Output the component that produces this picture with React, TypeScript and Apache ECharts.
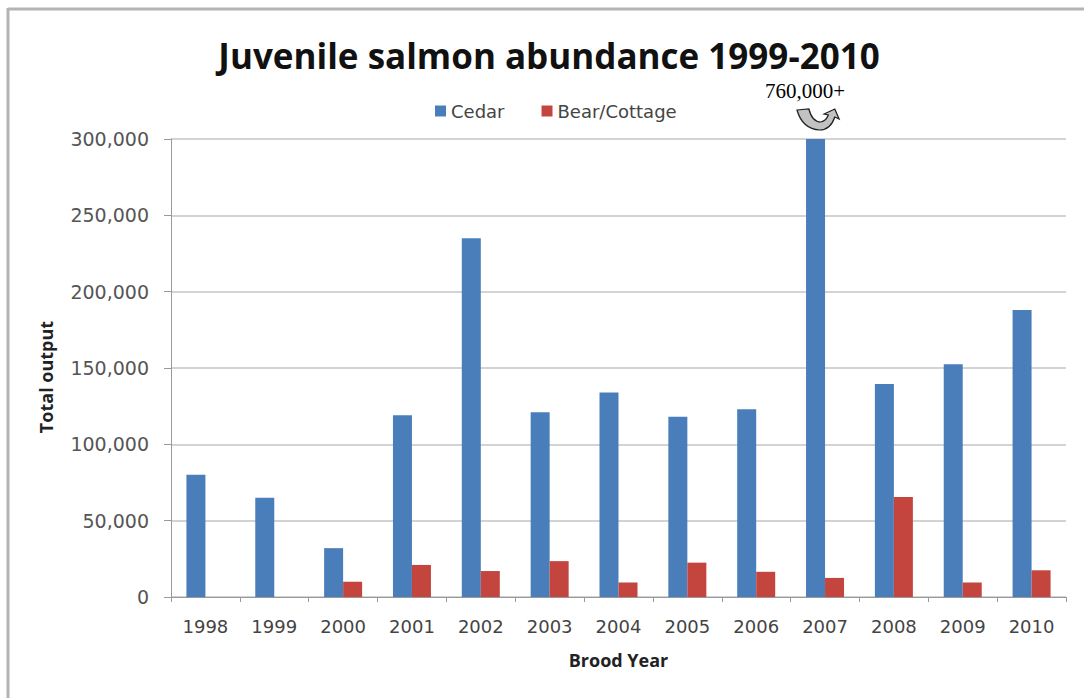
import React, { useEffect, useRef } from "react";
import * as echarts from "echarts";

const years = ["1998", "1999", "2000", "2001", "2002", "2003", "2004", "2005", "2006", "2007", "2008", "2009", "2010"];
const cedar = [80000, 65000, 32000, 119000, 235000, 121000, 134000, 118000, 123000, 760000, 139500, 152500, 188000];
const bearCottage = [null, null, 10000, 21000, 17000, 23500, 9500, 22500, 16500, 12500, 65500, 9500, 17500];
const yTicks = { min: 0, max: 300000, interval: 50000 };
const titleText = "Juvenile salmon abundance 1999-2010";
const yAxisTitle = "Total output";
const xAxisTitle = "Brood Year";
const annotationText = "760,000+";

const arrowPath =
  "M0 1 L11 0 Q14 13 22 13 Q27 12 29 6 L25 5 L35 0 L39 10 L35 8 Q31 21 21 21 Q5 20 0 1 Z";

echarts.graphic.registerShape("uturn", (echarts.graphic as any).extendPath(arrowPath, {}));

export default function App() {
  const ref = useRef<HTMLDivElement>(null);
  useEffect(() => {
    if (!ref.current) return;
    const chart = echarts.init(ref.current, undefined, { renderer: "svg" });
    const font = "Open Sans, Lato, sans-serif";
    const tickFont = "DejaVu Sans, sans-serif";
    chart.setOption({
      animation: false,
      backgroundColor: "#ffffff",
      legend: {
        top: 97,
        left: 430,
        itemWidth: 11,
        itemHeight: 11,
        itemGap: 37,
        icon: "rect",
        textStyle: { fontFamily: tickFont, fontSize: 18, color: "#444" },
        data: ["Cedar", "Bear/Cottage"],
      },
      grid: { left: 171, right: 18, top: 139, bottom: 101 },
      xAxis: {
        type: "category",
        data: years,
        name: xAxisTitle,
        nameLocation: "middle",
        nameGap: 54,
        nameTextStyle: { fontFamily: font, fontSize: 18, fontWeight: "bold", color: "#222" },
        axisLine: { lineStyle: { color: "#999" } },
        axisTick: { show: true, length: 5, lineStyle: { color: "#999" } },
        axisLabel: { fontFamily: tickFont, fontSize: 18, color: "#444", margin: 20 },
      },
      yAxis: {
        type: "value",
        min: yTicks.min,
        max: yTicks.max,
        interval: yTicks.interval,
        axisLine: { show: true, lineStyle: { color: "#999" } },
        axisTick: { show: true, length: 7, lineStyle: { color: "#999" } },
        axisLabel: {
          fontFamily: tickFont,
          fontSize: 19,
          color: "#555",
          margin: 22,
          formatter: (v: number) => v.toLocaleString("en-US"),
        },
        splitLine: { lineStyle: { color: "#c4c4c4", width: 1.5 } },
      },
      series: [
        {
          name: "Cedar",
          type: "bar",
          data: cedar,
          barWidth: 19,
          barGap: "0%",
          itemStyle: { color: "#4a7ebb" },
          clip: true,
        },
        {
          name: "Bear/Cottage",
          type: "bar",
          data: bearCottage,
          barWidth: 19,
          barGap: "0%",
          itemStyle: { color: "#c4453e" },
          clip: true,
        },
      ],
      graphic: [
        {
          type: "line",
          shape: { x1: 8, y1: 9, x2: 1084, y2: 9 },
          style: { stroke: "#b4b4b4", lineWidth: 3 },
        },
        {
          type: "line",
          shape: { x1: 8, y1: 8, x2: 8, y2: 698 },
          style: { stroke: "#b4b4b4", lineWidth: 3 },
        },
        {
          type: "text",
          x: 549,
          y: 55,
          style: {
            text: titleText,
            fontFamily: font,
            fontSize: 35,
            fontWeight: "bold",
            fill: "#111",
            align: "center",
            verticalAlign: "middle",
          },
        },
        {
          type: "text",
          x: 46,
          y: 377,
          rotation: Math.PI / 2,
          style: {
            text: yAxisTitle,
            fontFamily: font,
            fontSize: 18,
            fontWeight: "bold",
            fill: "#222",
            align: "center",
            verticalAlign: "middle",
          },
        },
        {
          type: "text",
          x: 805,
          y: 91,
          style: {
            text: annotationText,
            fontFamily: "Liberation Serif, DejaVu Serif, serif",
            fontSize: 21,
            fill: "#000",
            align: "center",
            verticalAlign: "middle",
          },
        },
        {
          type: "uturn",
          x: 797,
          y: 109,
          scaleX: 1.08,
          scaleY: 1.0,
          style: { fill: "#c2c2c2", stroke: "#222", lineWidth: 1.2 },
        },
      ],
    });
    return () => chart.dispose();
  }, []);
  return (
    <div
      ref={ref}
      style={{ position: "absolute", left: 0, top: 0, width: 1084, height: 698 }}
    />
  );
}
